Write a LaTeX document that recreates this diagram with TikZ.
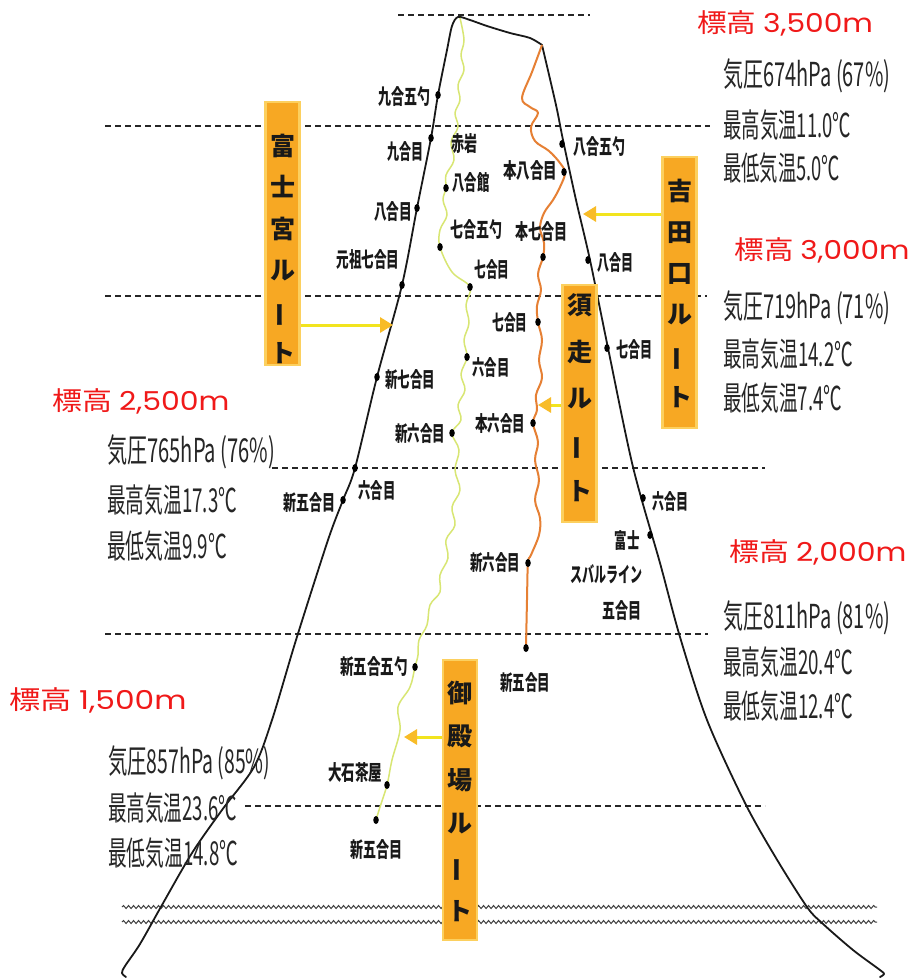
\documentclass[tikz,border=0pt]{standalone}
\usepackage{fontspec}
\usepackage{graphicx}
\usetikzlibrary{decorations.pathmorphing,arrows.meta,shapes.geometric}

\newfontfamily\jpfont{Noto Sans CJK JP}
\newfontfamily\numfont{Poppins}

% set a text to a given width, keeping its height
\newcommand\fitw[2]{\resizebox{#1pt}{\height}{#2}}
% long vowel mark standing upright in vertical text
\newcommand\choon{\rotatebox[origin=c]{90}{ー}}

\definecolor{altred}{RGB}{240,25,25}
\definecolor{boxorange}{RGB}{247,168,35}
\definecolor{boxglow}{RGB}{252,208,95}
\definecolor{arrowyellow}{RGB}{242,228,30}
\definecolor{headorange}{RGB}{248,188,40}
\definecolor{subaorange}{RGB}{230,128,52}
\definecolor{gotegreen}{RGB}{216,230,115}

\begin{document}
\begin{tikzpicture}[x=1pt,y=-1pt,
  alt/.style={dash pattern=on 6pt off 4pt, line width=1.8pt, draw=black!85},
  wavy/.style={decorate, decoration={snake, segment length=5pt, amplitude=1.5pt}, line width=1pt, draw=black!75},
  mount/.style={line width=1.8pt, draw=black!90, line join=round, line cap=round},
  suba/.style={line width=2pt, draw=subaorange, line join=round},
  gote/.style={line width=1.5pt, draw=gotegreen, line join=round},
  dot/.style={ellipse, fill=black, inner sep=0pt, minimum width=5.5pt, minimum height=8pt},
  stn/.style={inner sep=0pt, font=\jpfont\bfseries\fontsize{21}{21}\selectfont, text=black!90},
  dat/.style={inner sep=0pt, anchor=west, font=\jpfont\fontsize{33}{33}\selectfont, text=black!85},
  alttag/.style={inner sep=0pt, text=altred, font=\jpfont\fontsize{26}{26}\selectfont},
  routebox/.style={rectangle, fill=boxorange, draw=boxglow, line width=2.5pt, minimum width=34pt, inner sep=0pt},
  routetxt/.style={inner sep=0pt, align=center, text=black!90},
  routearrow/.style={line width=3pt, draw=arrowyellow, -{Triangle[length=13pt,width=15pt,color=headorange]}}
]
\fill[white] (0,0) rectangle (913,978);
\useasboundingbox (0,0) rectangle (913,978);

% altitude guide lines
\draw[alt] (398,15) -- (590,15);
\draw[alt] (105,126) -- (710,126);
\draw[alt] (105,296) -- (707,296);
\draw[alt] (272,468) -- (765,468);
\draw[alt] (105,634) -- (708,634);
\draw[alt] (245,806) -- (765,806);
\draw[wavy] (122,907) -- (877,907);
\draw[wavy] (122,922) -- (877,922);

% mountain outline: west slope and summit crest
\draw[mount] plot[smooth, tension=0.5] coordinates {
  (126,977) (122,973) (125,966) (140,944) (162,905) (192,853) (222,810)
  (254,767) (272,720) (296,640) (328,540) (343,500) (355,468) (377,377)
  (402,285) (417,208) (431,138) (438,95) (447,50) (452,26) (458,17)
  (470,20) (487,26) (510,33) (530,38) (542,45)};
% east slope
\draw[mount] plot[smooth, tension=0.5] coordinates {
  (542,45) (556,105) (563,140) (576,200) (590,260) (608,348) (633,467)
  (660,563) (680,637) (707,720) (745,803) (776,858) (807,907) (822,923)
  (853,950) (880,970) (884,974) (880,977)};

% Subashiri trail
\draw[suba] plot[smooth, tension=0.6] coordinates {
  (542,45) (532,72) (522,98) (530,107) (538,113) (531,127) (535,141)
  (549,151) (560,163) (565,173) (560,187) (553,200) (544,213) (540,228)
  (544,243) (543,257) (538,274) (541,290) (537,306) (538,322) (542,340)
  (539,360) (542,378) (536,395) (537,410) (533,423) (538,442) (535,460)
  (539,480) (535,500) (540,518) (539,535) (531,555) (528,563) (527,600)
  (526,648)};

% Gotemba trail
\draw[gote] plot[smooth, tension=0.6] coordinates {
  (460,18) (464,40) (461,55) (464,70) (458,85) (460,100) (455,113)
  (458,127) (451,142) (454,160) (446,175) (446,188) (443,200) (447,215)
  (440,230) (440,247) (452,272) (470,287) (466,305) (469,323) (464,340)
  (467,357) (461,374) (465,390) (458,405) (461,420) (452,433) (459,450)
  (455,470) (460,490) (452,507) (455,525) (446,540) (448,558) (440,575)
  (440,592) (430,605) (427,625) (419,640) (418,655) (415,667) (410,687)
  (398,707) (400,730) (392,760) (387,785) (380,807) (376,820)};

% Fujinomiya stations
\node[dot] (f5) at (343,500) {};
\node[stn] (f5l) at (309,503) {\fitw{52}{新五合目}};
\node[dot] (f6) at (355,468) {};
\node[stn] (f6l) at (377,491) {\fitw{37}{六合目}};
\node[dot] (f7n) at (377,377) {};
\node[stn] (f7nl) at (410,380) {\fitw{50}{新七合目}};
\node[dot] (f7g) at (402,285) {};
\node[stn] (f7gl) at (368,260) {\fitw{63}{元祖七合目}};
\node[dot] (f8) at (417,208) {};
\node[stn] (f8l) at (393,212) {\fitw{38}{八合目}};
\node[dot] (f9) at (431,138) {};
\node[stn] (f9l) at (405,152) {\fitw{36}{九合目}};
\node[dot] (f95) at (438,95) {};
\node[stn] (f95l) at (404,97) {\fitw{52}{九合五勺}};

% Yoshida stations
\node[dot] (y85) at (562,144) {};
\node[stn] (y85l) at (599,147) {\fitw{52}{八合五勺}};
\node[dot] (y8h) at (564,172) {};
\node[stn] (y8hl) at (530,171) {\fitw{54}{本八合目}};
\node[dot] (y8) at (588,260) {};
\node[stn] (y8l) at (615,263) {\fitw{36}{八合目}};
\node[dot] (y7) at (607,348) {};
\node[stn] (y7l) at (634,350) {\fitw{36}{七合目}};
\node[dot] (y6) at (643,498) {};
\node[stn] (y6l) at (670,502) {\fitw{36}{六合目}};
\node[dot] (y5) at (650,535) {};
\node[stn] (y5a) at (627,540) {\fitw{25}{富士}};
\node[stn] (y5b) at (606,574) {\fitw{72}{スバルライン}};
\node[stn] (y5c) at (622,611) {\fitw{39}{五合目}};

% Subashiri stations
\node[dot] (s7h) at (543,257) {};
\node[stn] (s7hl) at (541,232) {\fitw{52}{本七合目}};
\node[dot] (s7) at (538,322) {};
\node[stn] (s7l) at (510,323) {\fitw{35}{七合目}};
\node[dot] (s6h) at (533,423) {};
\node[stn] (s6hl) at (500,424) {\fitw{50}{本六合目}};
\node[dot] (s6n) at (528,563) {};
\node[stn] (s6nl) at (495,563) {\fitw{50}{新六合目}};
\node[dot] (s5) at (526,648) {};
\node[stn] (s5l) at (525,683) {\fitw{50}{新五合目}};

% Gotemba stations
\node[stn] (gakl) at (464,144) {\fitw{26}{赤岩}};
\node[dot] (g8) at (446,188) {};
\node[stn] (g8l) at (471,183) {\fitw{37}{八合館}};
\node[dot] (g75) at (440,247) {};
\node[stn] (g75l) at (476,230) {\fitw{52}{七合五勺}};
\node[dot] (g7) at (470,287) {};
\node[stn] (g7l) at (492,270) {\fitw{35}{七合目}};
\node[dot] (g6) at (467,357) {};
\node[stn] (g6l) at (491,368) {\fitw{37}{六合目}};
\node[dot] (g6n) at (452,433) {};
\node[stn] (g6nl) at (420,434) {\fitw{50}{新六合目}};
\node[dot] (g55) at (415,667) {};
\node[stn] (g55l) at (374,667) {\fitw{68}{新五合五勺}};
\node[dot] (goi) at (387,785) {};
\node[stn] (goil) at (355,773) {\fitw{54}{大石茶屋}};
\node[dot] (g5) at (376,820) {};
\node[stn] (g5l) at (376,850) {\fitw{52}{新五合目}};

% route name boxes
\node[routebox, minimum height=263pt] (fujibox) at (282.5,233.5) {};
\node[routetxt, font=\jpfont\bfseries\fontsize{25}{41.4}\selectfont] (fujitxt) at (283,249) {富\\士\\宮\\ル\\\choon\\ト};
\node[routebox, minimum height=271pt] (yoshibox) at (679.5,292.5) {};
\node[routetxt, font=\jpfont\bfseries\fontsize{25}{41.2}\selectfont] (yoshitxt) at (680,293) {吉\\田\\口\\ル\\\choon\\ト};
\node[routebox, minimum height=237pt] (subabox) at (579.5,403.5) {};
\node[routetxt, font=\jpfont\bfseries\fontsize{25}{46.5}\selectfont] (subatxt) at (580,398) {須\\走\\ル\\\choon\\ト};
\node[routebox, minimum height=280pt] (gotebox) at (460,800) {};
\node[routetxt, font=\jpfont\bfseries\fontsize{25}{43.6}\selectfont] (gotetxt) at (460,801) {御\\殿\\場\\ル\\\choon\\ト};

% arrows from the route boxes to their trails
\coordinate (fujitip) at (393,325);
\coordinate (yoshitip) at (583,214);
\coordinate (subatip) at (538,405);
\coordinate (gotetip) at (404,737);
\draw[routearrow] (fujibox.east |- fujitip) -- (fujitip);
\draw[routearrow] (yoshibox.west |- yoshitip) -- (yoshitip);
\draw[routearrow] (subabox.west |- subatip) -- (subatip);
\draw[routearrow] (gotebox.west |- gotetip) -- (gotetip);

% altitude tags
\node[alttag] (h3500) at (785,23) {\fitw{176}{標高\hspace{6pt}{\numfont 3,500m}}};
\node[alttag] (h3000) at (822,250) {\fitw{175}{標高\hspace{6pt}{\numfont 3,000m}}};
\node[alttag] (h2500) at (141,401) {\fitw{177}{標高\hspace{6pt}{\numfont 2,500m}}};
\node[alttag] (h2000) at (818,552) {\fitw{177}{標高\hspace{6pt}{\numfont 2,000m}}};
\node[alttag] (h1500) at (98,700) {\fitw{177}{標高\hspace{6pt}{\numfont 1,500m}}};

% weather at each altitude
\node[dat] (w35a) at (723,76) {\fitw{167}{気圧674hPa (67\%)}};
\node[dat] (w35b) at (723,125) {\fitw{128}{最高気温11.0℃}};
\node[dat] (w35c) at (723,168) {\fitw{117}{最低気温5.0℃}};
\node[dat] (w30a) at (723,308) {\fitw{167}{気圧719hPa (71\%)}};
\node[dat] (w30b) at (723,354) {\fitw{130}{最高気温14.2℃}};
\node[dat] (w30c) at (723,398) {\fitw{119}{最低気温7.4℃}};
\node[dat] (w25a) at (107,452) {\fitw{168}{気圧765hPa (76\%)}};
\node[dat] (w25b) at (107,500) {\fitw{130}{最高気温17.3℃}};
\node[dat] (w25c) at (107,546) {\fitw{120}{最低気温9.9℃}};
\node[dat] (w20a) at (723,618) {\fitw{167}{気圧811hPa (81\%)}};
\node[dat] (w20b) at (723,662) {\fitw{130}{最高気温20.4℃}};
\node[dat] (w20c) at (723,706) {\fitw{130}{最低気温12.4℃}};
\node[dat] (w15a) at (108,763) {\fitw{162}{気圧857hPa (85\%)}};
\node[dat] (w15b) at (108,808) {\fitw{129}{最高気温23.6℃}};
\node[dat] (w15c) at (108,853) {\fitw{130}{最低気温14.8℃}};
\end{tikzpicture}
\end{document}
